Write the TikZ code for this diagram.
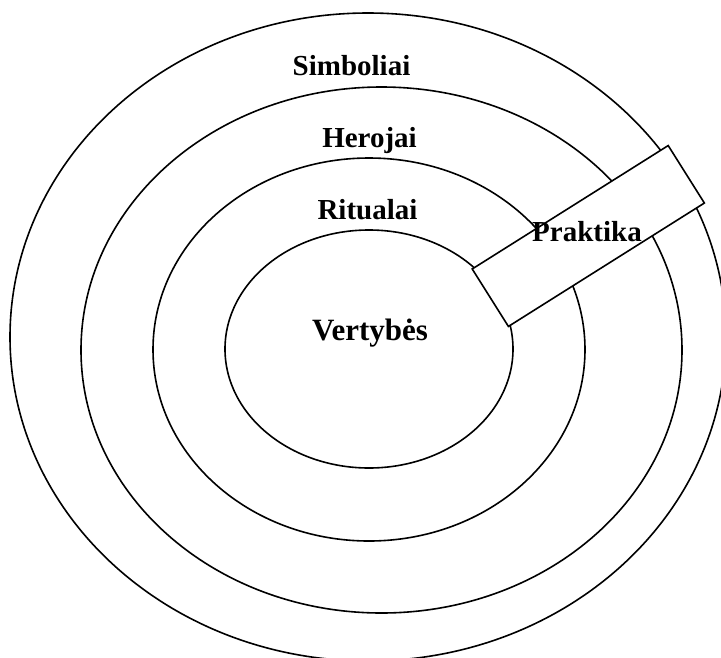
\documentclass[tikz,border=0pt]{standalone}
\usepackage{fontspec}
\setmainfont{Liberation Serif}
\tikzset{ring/.style={line width=1.6pt},
  layer/.style={font=\fontsize{29}{30}\selectfont\bfseries, anchor=base, inner sep=0pt},
  practicebox/.style={draw, fill=white, line width=1.6pt, minimum width=231.6pt, minimum height=67.9pt, rotate=32.2}}

\begin{document}
\begin{tikzpicture}[x=1pt, y=-1pt]
\useasboundingbox (0,0) rectangle (721,657);
\clip (0,0) rectangle (721,657);
\draw[ring] (368, 337) ellipse [x radius=358pt, y radius=324pt];
\draw[ring] (381.5, 350) ellipse [x radius=300.5pt, y radius=263pt];
\draw[ring] (369, 349.5) ellipse [x radius=216pt, y radius=191.5pt];
\draw[ring] (369, 349) ellipse [x radius=144pt, y radius=119pt];
\node[practicebox] (praktikabox) at (588.3, 236) {};
\node[layer] (simboliai) at (351.5, 75) {Simboliai};
\node[layer] (herojai) at (369.5, 147) {Herojai};
\node[layer] (ritualai) at (367.5, 219) {Ritualai};
\node[layer, font=\fontsize{31}{32}\selectfont\bfseries] (vertybes) at (370, 340) {Vertybės};
\node[layer] (praktika) at (587, 241) {Praktika};
\end{tikzpicture}
\end{document}
